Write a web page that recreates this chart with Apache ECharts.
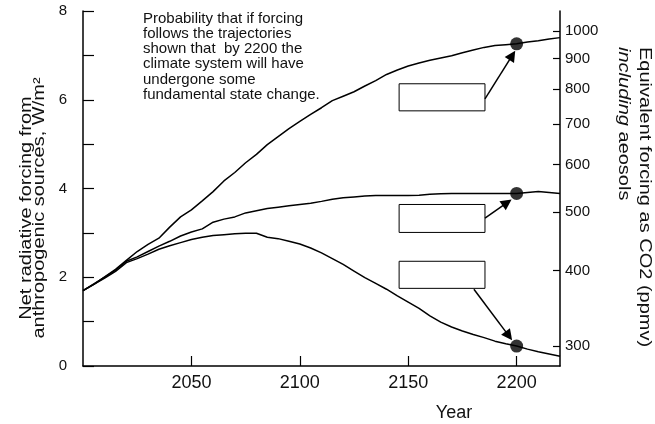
<!DOCTYPE html>
<html>
<head>
<meta charset="utf-8">
<script src="https://cdn.jsdelivr.net/npm/echarts@6/dist/echarts.min.js"></script>
<style>
html,body{margin:0;padding:0;background:#fff;}
#chart{width:655px;height:424px;}
</style>
</head>
<body>
<div id="chart"></div>
<script>
// ---- data ----
const years = [2000,2005,2010,2015,2020,2025,2030,2035,2040,2045,2050,2055,2060,2065,2070,2075,2080,2085,2090,2095,2100,2105,2110,2115,2120,2125,2130,2135,2140,2145,2150,2155,2160,2165,2170,2175,2180,2185,2190,2195,2200,2205,2210,2215,2220];
const highForcing = [1.70,1.84,2.01,2.18,2.38,2.58,2.74,2.88,3.13,3.36,3.52,3.72,3.93,4.17,4.36,4.58,4.77,4.99,5.17,5.35,5.51,5.67,5.82,5.98,6.08,6.18,6.31,6.43,6.57,6.67,6.76,6.83,6.89,6.94,6.99,7.06,7.12,7.18,7.22,7.24,7.26,7.30,7.33,7.37,7.40];
const midForcing  = [1.70,1.85,2.00,2.16,2.36,2.46,2.58,2.70,2.81,2.93,3.02,3.09,3.24,3.31,3.36,3.45,3.50,3.55,3.58,3.61,3.64,3.67,3.71,3.76,3.79,3.81,3.83,3.84,3.84,3.84,3.84,3.85,3.87,3.88,3.89,3.89,3.89,3.89,3.89,3.89,3.89,3.91,3.93,3.91,3.89];
const lowForcing  = [1.70,1.84,1.98,2.13,2.33,2.42,2.52,2.63,2.71,2.78,2.85,2.90,2.94,2.96,2.98,2.99,2.99,2.90,2.87,2.81,2.75,2.66,2.55,2.42,2.29,2.14,1.99,1.86,1.73,1.58,1.44,1.30,1.13,0.99,0.88,0.79,0.71,0.64,0.56,0.50,0.45,0.38,0.32,0.27,0.22];
const dotYear = 2200;
const dotValues = [7.26, 3.89, 0.45];

const xTickYears = [2050, 2100, 2150, 2200];
const leftTickLabels = [0, 2, 4, 6, 8];
const ppmTickLabels = [300, 400, 500, 600, 700, 800, 900, 1000];
// conversion forcing = k * ln(C / C0)
const co2K = 5.9, co2Base = 278;

// annotation boxes [x1, y1, x2, y2] and arrows [xFrom, yFrom, xTo, yTo] in data units
const boxes = [
  [2145.8, 6.36, 2185.4, 5.75],
  [2145.8, 3.64, 2185.4, 3.01],
  [2145.8, 2.36, 2185.4, 1.75]
];
const arrows = [
  [2185.4, 6.02, 2198.0, 7.00],
  [2185.4, 3.33, 2195.6, 3.68],
  [2180.3, 1.73, 2196.4, 0.68]
];

const noteText = 'Probability that if forcing\nfollows the trajectories\nshown that  by 2200 the\nclimate system will have\nundergone some\nfundamental state change.';

// ---- chart ----
const FONT = '"Liberation Sans", Arial, Helvetica, sans-serif';
const INK = '#111';
const chart = echarts.init(document.getElementById('chart'), null, {renderer: 'canvas'});

const ppmValues = ppmTickLabels.map(p => co2K * Math.log(p / co2Base));
const lineSeries = (name, vals) => ({
  name, type: 'line', yAxisIndex: 0,
  data: years.map((y, i) => [y, vals[i]]),
  showSymbol: false, symbol: 'none', smooth: false,
  lineStyle: {color: '#000', width: 1.5},
  silent: true, animation: false, z: 2
});

chart.setOption({
  animation: false,
  textStyle: {fontFamily: FONT},
  grid: {left: 83, right: 95, top: 11, bottom: 58, containLabel: false},
  xAxis: {
    type: 'value', min: 2000, max: 2220,
    axisLine: {show: true, onZero: false, lineStyle: {color: '#000', width: 1.5}},
    axisTick: {show: true, inside: true, length: 10, customValues: xTickYears, lineStyle: {color: '#000', width: 1.2}},
    axisLabel: {customValues: xTickYears, fontSize: 18, color: INK, margin: 8, fontFamily: FONT, formatter: v => String(v)},
    splitLine: {show: false}
  },
  yAxis: [
    {
      type: 'value', min: 0, max: 8, interval: 1, position: 'left',
      axisLine: {show: true, lineStyle: {color: '#000', width: 1.5}},
      axisTick: {show: true, inside: true, length: 11, lineStyle: {color: '#000', width: 1.2}},
      axisLabel: {customValues: leftTickLabels, fontSize: 15, color: INK, margin: 16, fontFamily: FONT},
      splitLine: {show: false}
    },
    {
      type: 'value', min: 0, max: 8, position: 'right',
      axisLine: {show: true, lineStyle: {color: '#000', width: 1.5}},
      axisTick: {show: true, inside: true, length: 7, customValues: ppmValues, lineStyle: {color: '#000', width: 1.2}},
      axisLabel: {
        customValues: ppmValues, fontSize: 15, color: INK, margin: 5, fontFamily: FONT,
        formatter: v => String(Math.round(co2Base * Math.exp(v / co2K)))
      },
      splitLine: {show: false}
    }
  ],
  series: [
    lineSeries('High trajectory', highForcing),
    lineSeries('Middle trajectory', midForcing),
    lineSeries('Low trajectory', lowForcing),
    {
      name: 'State in 2200', type: 'scatter', yAxisIndex: 0,
      data: dotValues.map(v => [dotYear, v]),
      symbol: 'circle', symbolSize: 13,
      itemStyle: {color: '#000'}, silent: true, z: 4
    },
    {
      name: 'Annotations', type: 'line', yAxisIndex: 0, data: [], z: 6, silent: true,
      markArea: {
        silent: true,
        itemStyle: {color: '#fff', borderColor: '#000', borderWidth: 1},
        label: {show: false},
        data: boxes.map(b => [{coord: [b[0], b[1]]}, {coord: [b[2], b[3]]}])
      },
      markLine: {
        silent: true, animation: false,
        symbol: ['none', 'triangle'], symbolSize: 11,
        label: {show: false},
        lineStyle: {color: '#000', width: 1.5, type: 'solid'},
        itemStyle: {color: '#000'},
        emphasis: {disabled: true},
        data: arrows.map(a => [{coord: [a[0], a[1]]}, {coord: [a[2], a[3]]}])
      }
    }
  ],
  graphic: [
    {
      type: 'text', x: 143, y: 11, silent: true,
      style: {text: noteText, fontSize: 15, lineHeight: 15.2, fontFamily: FONT, fill: INK, align: 'left', verticalAlign: 'top'}
    },
    {
      type: 'text', x: 33, y: 208, rotation: Math.PI / 2, scaleX: 1.25, silent: true,
      style: {text: 'Net radiative forcing from\nanthropogenic sources, W/m²', fontSize: 16, lineHeight: 13.5, fontFamily: FONT, fill: INK, align: 'center', verticalAlign: 'middle'}
    },
    {
      type: 'text', x: 634, y: 47, rotation: -Math.PI / 2, scaleX: 1.25, silent: true,
      style: {
        text: 'Equivalent forcing as CO2 (ppmv)\n{i|including} aeosols',
        fontSize: 16, lineHeight: 21, fontFamily: FONT, fill: INK, align: 'left', verticalAlign: 'middle',
        rich: {i: {fontStyle: 'italic', fontSize: 16, fontFamily: FONT, fill: INK, lineHeight: 21}}
      }
    },
    {
      type: 'text', x: 454, y: 413, silent: true,
      style: {text: 'Year', fontSize: 18, fontFamily: FONT, fill: INK, align: 'center', verticalAlign: 'middle'}
    }
  ]
});
</script>
</body>
</html>
